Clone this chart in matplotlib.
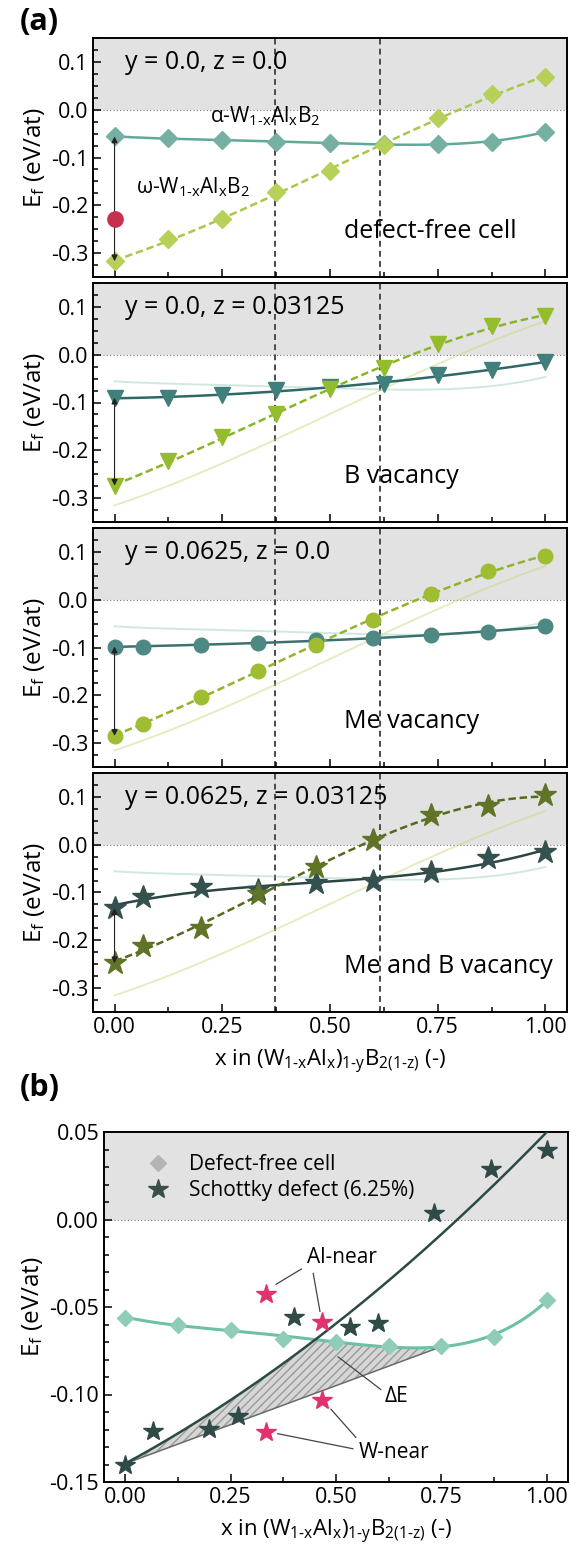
import numpy as np
import matplotlib
matplotlib.use('Agg')
import matplotlib.pyplot as plt
from matplotlib.ticker import MultipleLocator

plt.rcParams['font.family'] = ['Open Sans', 'DejaVu Sans']
plt.rcParams['mathtext.fontset'] = 'custom'
plt.rcParams['mathtext.rm'] = 'Open Sans'
plt.rcParams['mathtext.it'] = 'Open Sans:italic'
plt.rcParams['mathtext.default'] = 'regular'

# ── compositions ──
x_eighth = [0, 0.125, 0.25, 0.375, 0.5, 0.625, 0.75, 0.875, 1.0]
x_fifteenth = [0, 1/15, 3/15, 5/15, 7/15, 9/15, 11/15, 13/15, 1.0]

# ── (a) formation energies, eV/at ──
ef_alpha_free = [-0.056, -0.060, -0.063, -0.068, -0.070, -0.072, -0.072, -0.067, -0.046]
ef_omega_free = [-0.317, -0.271, -0.229, -0.173, -0.129, -0.073, -0.018, 0.032, 0.068]
ef_red_free = -0.229

ef_alpha_bvac = [-0.090, -0.091, -0.084, -0.074, -0.067, -0.062, -0.043, -0.032, -0.015]
ef_omega_bvac = [-0.274, -0.223, -0.173, -0.124, -0.072, -0.028, 0.022, 0.061, 0.080]

ef_alpha_mevac = [-0.098, -0.098, -0.095, -0.091, -0.084, -0.081, -0.074, -0.067, -0.056]
ef_omega_mevac = [-0.285, -0.259, -0.203, -0.150, -0.094, -0.042, 0.011, 0.060, 0.091]

ef_alpha_mebvac = [-0.133, -0.110, -0.088, -0.094, -0.081, -0.075, -0.058, -0.028, -0.016]
ef_omega_mebvac = [-0.248, -0.211, -0.175, -0.103, -0.047, 0.009, 0.063, 0.081, 0.103]

x_stable_bounds = [0.372, 0.617]

# ── (b) Schottky defects ──
x_schottky = [0, 1/15, 3/15, 4/15, 6/15, 8/15, 9/15, 11/15, 13/15, 1.0]
ef_schottky = [-0.1405, -0.121, -0.1195, -0.1125, -0.0555, -0.0615, -0.059, 0.004, 0.029, 0.040]
x_al_near = [5/15, 7/15]
ef_al_near = [-0.0423, -0.0586]
x_w_near = [5/15, 7/15]
ef_w_near = [-0.1214, -0.1029]

panel_texts = ['y = 0.0, z = 0.0', 'y = 0.0, z = 0.03125',
               'y = 0.0625, z = 0.0', 'y = 0.0625, z = 0.03125']
panel_names = ['defect-free cell', 'B vacancy', 'Me vacancy', 'Me and B vacancy']

xlabel = r'x in (W$_{1\text{-}x}$Al$_x$)$_{1\text{-}y}$B$_{2(1\text{-}z)}$ (-)'
ylabel = 'E$_f$ (eV/at)'

grid = np.linspace(0, 1, 200)


def smooth(x, y, deg=3):
    return np.polyval(np.polyfit(x, y, deg), grid)


def style_axis(ax, ymajor, yminor, size):
    ax.set_xlim(-0.05, 1.05)
    ax.xaxis.set_major_locator(MultipleLocator(0.25))
    ax.xaxis.set_minor_locator(MultipleLocator(0.125))
    ax.yaxis.set_major_locator(MultipleLocator(ymajor))
    ax.yaxis.set_minor_locator(MultipleLocator(yminor))
    ax.tick_params(which='both', direction='in', top=False, right=False,
                   labelsize=size, width=1.1)
    ax.tick_params(which='major', length=6)
    ax.tick_params(which='minor', length=3.5)
    for s in ax.spines.values():
        s.set_linewidth(1.4)


W, H = 570, 1553
fig = plt.figure(figsize=(W / 100, H / 100), dpi=100)
fig.patch.set_facecolor('white')


def add_ax(left, top, right, bottom):
    return fig.add_axes([left / W, 1 - bottom / H, (right - left) / W, (bottom - top) / H])


# ── (a) four stacked panels ──
panel_tops = [38, 283, 528, 773]
panel_h = 239

# values, x, marker, size, alpha marker/line colour, omega marker/line colour, fit degree
sets = [
    (ef_alpha_free, ef_omega_free, x_eighth, 'D', 9, '#76b0a3', '#5ea997', '#b7d05a', '#a8c84a', 4),
    (ef_alpha_bvac, ef_omega_bvac, x_eighth, 'v', 11, '#3f7f7c', '#2f6865', '#93bd2c', '#8ab52a', 3),
    (ef_alpha_mevac, ef_omega_mevac, x_fifteenth, 'o', 10.5, '#4e8882', '#3c726d', '#9fbd30', '#93b32c', 3),
    (ef_alpha_mebvac, ef_omega_mebvac, x_fifteenth, '*', 17, '#35514f', '#2b4543', '#5f7426', '#55691f', 3),
]

ghost_alpha = smooth(x_eighth, ef_alpha_free, 4)
ghost_omega = smooth(x_eighth, ef_omega_free, 3)

for i, (ea, eo, xs, mk, ms, ca, la, co, lo, deg) in enumerate(sets):
    top = panel_tops[i]
    ax = add_ax(93, top, 567, top + panel_h)
    ax.set_ylim(-0.35, 0.15)
    ax.axhspan(0, 0.15, color='#e2e2e2', zorder=0, lw=0)
    ax.axhline(0, color='#777777', ls=(0, (1, 2)), lw=0.8, zorder=1)
    for xv in x_stable_bounds:
        ax.axvline(xv, color='#4a4a4a', ls=(0, (3, 2.2)), lw=1.4, zorder=1)

    if i > 0:
        ax.plot(grid, ghost_alpha, color='#7dbfae', lw=1.4, alpha=0.35, zorder=2)
        ax.plot(grid, ghost_omega, color='#c4d977', lw=1.4, alpha=0.45, zorder=2)

    ax.plot(grid, smooth(xs, ea, deg), color=la, lw=1.8, zorder=3)
    ax.plot(grid, smooth(xs, eo, 3), color=lo, lw=1.8, ls=(0, (3, 1.5)), zorder=3)
    ax.plot(xs, ea, mk, color=ca, ms=ms, mec=ca, zorder=4)
    ax.plot(xs, eo, mk, color=co, ms=ms, mec=co, zorder=4)

    ax.annotate('', xy=(0, eo[0]), xytext=(0, ea[0]),
                arrowprops=dict(arrowstyle='<|-|>', lw=0.8, color='#222222',
                                mutation_scale=9, shrinkA=0, shrinkB=0), zorder=5)
    if i == 0:
        ax.plot([0], [ef_red_free], 'o', color='#c8304f', ms=11, zorder=6)
        ax.text(0.222, -0.014, r'α-W$_{1\text{-}x}$Al$_x$B$_2$', fontsize=15, va='center')
        ax.text(0.05, -0.162, r'ω-W$_{1\text{-}x}$Al$_x$B$_2$', fontsize=15, va='center')

    ax.text(0.025, 0.099, panel_texts[i], fontsize=18, va='center')
    ax.text(0.533, -0.255, panel_names[i], fontsize=18, va='center')

    style_axis(ax, 0.1, 0.025, 15.5)
    ax.yaxis.set_major_formatter(plt.FuncFormatter(lambda v, p: f'{v:.1f}'))
    ax.set_ylabel(ylabel, fontsize=17.5, labelpad=3)
    if i < 3:
        ax.tick_params(labelbottom=False)
    else:
        ax.xaxis.set_major_formatter(plt.FuncFormatter(lambda v, p: f'{v:.2f}'))
        ax.set_xlabel(xlabel, fontsize=16, labelpad=7)

fig.text(20 / W, 1 - 22 / H, '(a)', fontsize=22, fontweight='bold', va='center')
fig.text(20 / W, 1 - 1088 / H, '(b)', fontsize=22, fontweight='bold', va='center')

# ── (b) Schottky defect comparison ──
axb = add_ax(104, 1132, 568, 1482)
axb.set_ylim(-0.15, 0.05)
axb.axhspan(0, 0.05, color='#e2e2e2', zorder=0, lw=0)
axb.axhline(0, color='#777777', ls=(0, (1, 2)), lw=0.8, zorder=1)

free_curve = smooth(x_eighth, ef_alpha_free, 4)
schottky_curve = smooth(x_schottky, ef_schottky, 2)

# common tangent construction: from Schottky curve at x=0 to defect-free curve at x=0.75
x_tie = 0.75
i_tie = np.argmin(np.abs(grid - x_tie))
tie = schottky_curve[0] + (free_curve[i_tie] - schottky_curve[0]) * grid / grid[i_tie]
upper = np.minimum(schottky_curve, free_curve)
region = (grid <= grid[i_tie]) & (upper >= tie)
axb.fill_between(grid, tie, upper, where=region, facecolor='#d6d6d6',
                 edgecolor='#9a9a9a', hatch='////', lw=0, zorder=1)
axb.plot(grid[grid <= grid[i_tie]], tie[grid <= grid[i_tie]], color='#6a6a6a', lw=1.1, zorder=2)

axb.plot(grid, free_curve, color='#6cc0a6', lw=2.2, zorder=3)
axb.plot(x_eighth, ef_alpha_free, 'D', color='#8fcdb7', ms=8.5, zorder=4)
axb.plot(grid, schottky_curve, color='#2b4a46', lw=1.8, zorder=3)
axb.plot(x_schottky, ef_schottky, '*', color='#2f4a47', ms=15, zorder=5)
axb.plot(x_al_near, ef_al_near, '*', color='#e0336e', ms=15, zorder=5)
axb.plot(x_w_near, ef_w_near, '*', color='#e0336e', ms=15, zorder=5)

# legend proxies
axb.plot([], [], 'D', color='#b4b4b4', ms=8.5, label='Defect-free cell')
axb.plot([], [], '*', color='#3a4f4c', ms=15, label='Schottky defect (6.25%)')
handles, labels = axb.get_legend_handles_labels()
axb.legend(handles[-2:], labels[-2:], loc='upper left', frameon=False, fontsize=15,
           bbox_to_anchor=(0.03, 0.99), handletextpad=0.5, labelspacing=0.25)

lk = dict(color='#444444', lw=0.9)
axb.text(0.513, -0.0216, 'Al-near', fontsize=15, ha='center', va='center')
axb.plot([0.418, 0.358], [-0.0283, -0.037], **lk)
axb.plot([0.446, 0.462], [-0.0308, -0.0525], **lk)
axb.text(0.615, -0.1014, 'ΔE', fontsize=15, ha='left', va='center')
axb.plot([0.606, 0.505], [-0.0971, -0.0785], **lk)
axb.text(0.553, -0.1329, 'W-near', fontsize=15, ha='left', va='center')
axb.plot([0.547, 0.488], [-0.1245, -0.1084], **lk)
axb.plot([0.540, 0.362], [-0.131, -0.1224], **lk)

style_axis(axb, 0.05, 0.01, 15.5)
axb.yaxis.set_major_formatter(plt.FuncFormatter(lambda v, p: f'{v:.2f}'))
axb.xaxis.set_major_formatter(plt.FuncFormatter(lambda v, p: f'{v:.2f}'))
axb.set_ylabel(ylabel, fontsize=17.5, labelpad=3)
axb.set_xlabel(xlabel, fontsize=16, labelpad=7)

fig.savefig('out.png', dpi=100)
